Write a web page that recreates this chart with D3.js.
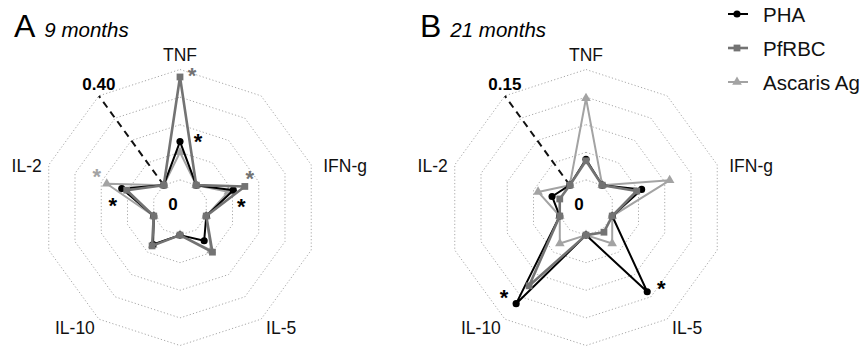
<!DOCTYPE html>
<html>
<head>
<meta charset="utf-8">
<script src="https://cdn.jsdelivr.net/npm/d3@7"></script>
<style>
  html, body { margin: 0; padding: 0; background: #fff; }
  svg { display: block; font-family: "Liberation Sans", Arial, sans-serif; }
</style>
</head>
<body>
<svg id="chart" width="863" height="350"></svg>
<script>
// Spokes of the radar: five cytokines with an empty spacer spoke between each pair
const categories = ["TNF", "", "IFN-g", "", "IL-5", "", "IL-10", "", "IL-2", ""];
const seriesNames = ["PHA", "PfRBC", "Ascaris Ag"];

// Panel A: 9 months
const pha9     = [0.139, 0, 0.103, 0, 0.049, 0, 0.066, 0, 0.122, 0];
const pfrbc9   = [0.373, 0, 0.147, 0, 0.100, 0, 0.072, 0, 0.103, 0];
const ascaris9 = [0.100, 0, 0.084, 0, 0.092, 0, 0.068, 0, 0.179, 0];

// Panel B: 21 months
const pha21     = [0.028, 0, 0.042, 0, 0.104, 0, 0.124, 0, 0.011, 0];
const pfrbc21   = [0.026, 0, 0.035, 0, 0.004, 0, 0.094, 0, 0.000, 0];
const ascaris21 = [0.111, 0, 0.082, 0, 0.023, 0, 0.023, 0, 0.031, 0];

// Radial axis: value 0 sits on the first ring, the stated maximum on the outer ring
const axisMax = [0.40, 0.15];
const axisMaxLabels = ["0.40", "0.15"];
const panelLetters = ["A", "B"];
const panelTitles = ["9 months", "21 months"];

// Significance marks: [series index, spoke index]
const stars9  = [[1, 0], [0, 0], [1, 2], [0, 2], [2, 8], [0, 8]];
const stars21 = [[0, 6], [0, 4]];

const colors = ["#000000", "#737373", "#a3a3a3"];
const widths = [2, 2.6, 2];
const symbols = [d3.symbolCircle, d3.symbolSquare, d3.symbolTriangle];
const symbolSizes = [40, 46, 40];

const svg = d3.select("#chart");
const R = 138;
const rings = 5;
const n = categories.length;
const angle = i => i * 2 * Math.PI / n;

const panels = [
  { cx: 180, cy: 207.5, data: [pha9, pfrbc9, ascaris9], stars: stars9,
    starOffsets: [[12, -6], [18, -5], [5, -12], [8, 12], [-10, -12], [-9, 12]] },
  { cx: 586, cy: 207.5, data: [pha21, pfrbc21, ascaris21], stars: stars21,
    starOffsets: [[-12, -11], [14, -8]] }
];

// Where each axis label sits relative to its outer-ring vertex
const labelPlace = {
  0: { dx: 0, dy: -9, anchor: "middle" },
  2: { dx: 12, dy: 7, anchor: "start" },
  4: { dx: 20, dy: 15, anchor: "middle" },
  6: { dx: -24, dy: 15, anchor: "middle" },
  8: { dx: -7, dy: 7, anchor: "end" }
};

panels.forEach((p, pi) => {
  const g = svg.append("g").attr("transform", `translate(${p.cx},${p.cy})`);
  const max = axisMax[pi];
  const min = -max / (rings - 1);
  const r = d3.scaleLinear().domain([min, max]).range([0, R]);
  const ringValues = d3.range(1, rings + 1).map(k => min + k * (max - min) / rings);

  const pt = (v, i) => [r(v) * Math.sin(angle(i)), -r(v) * Math.cos(angle(i))];

  // dotted decagon grid
  const ringLine = d3.lineRadial()
    .angle((d, i) => angle(i))
    .radius(d => r(d))
    .curve(d3.curveLinearClosed);
  g.selectAll(".ring").data(ringValues).join("path")
    .attr("class", "ring")
    .attr("d", v => ringLine(d3.range(n).map(() => v)))
    .attr("fill", "none")
    .attr("stroke", "#a8a8a8")
    .attr("stroke-width", 1)
    .attr("stroke-dasharray", "1.2,2.2");

  // dashed scale line from 0 to the maximum
  const a0 = pt(0, 9), a1 = pt(max, 9);
  g.append("line")
    .attr("x1", a0[0]).attr("y1", a0[1])
    .attr("x2", a1[0]).attr("y2", a1[1])
    .attr("stroke", "#111").attr("stroke-width", 2)
    .attr("stroke-dasharray", "7,5");
  g.append("text")
    .attr("x", a1[0]).attr("y", a1[1] - 6)
    .attr("text-anchor", "middle")
    .attr("font-size", 17).attr("font-weight", "bold")
    .text(axisMaxLabels[pi]);
  g.append("text")
    .attr("x", -7).attr("y", 2)
    .attr("text-anchor", "middle")
    .attr("font-size", 17).attr("font-weight", "bold")
    .text("0");

  // axis labels
  categories.forEach((c, i) => {
    if (!c) return;
    const v = pt(max, i), lp = labelPlace[i];
    g.append("text")
      .attr("x", v[0] + lp.dx).attr("y", v[1] + lp.dy)
      .attr("text-anchor", lp.anchor)
      .attr("font-size", 17.5)
      .attr("fill", "#111")
      .text(c);
  });

  // series, drawn bottom to top: Ascaris, PHA, PfRBC
  const seriesLine = d3.lineRadial()
    .angle((d, i) => angle(i))
    .radius(d => r(d))
    .curve(d3.curveLinearClosed);
  [2, 0, 1].forEach(si => {
    const vals = p.data[si];
    const sg = g.append("g");
    sg.append("path")
      .attr("d", seriesLine(vals))
      .attr("fill", "none")
      .attr("stroke", colors[si])
      .attr("stroke-width", widths[si])
      .attr("stroke-linejoin", "round");
    sg.selectAll("path.mk").data(vals).join("path")
      .attr("class", "mk")
      .attr("transform", (d, i) => `translate(${pt(d, i)})`)
      .attr("d", d3.symbol(symbols[si], symbolSizes[si]))
      .attr("fill", colors[si]);
  });

  // significance asterisks
  p.stars.forEach(([si, i], k) => {
    const q = pt(p.data[si][i], i), o = p.starOffsets[k];
    g.append("text")
      .attr("x", q[0] + o[0]).attr("y", q[1] + o[1] + 12)
      .attr("text-anchor", "middle")
      .attr("font-size", 22)
      .attr("font-weight", "bold")
      .attr("fill", colors[si])
      .text("*");
  });

  // panel heading
  const hx = pi === 0 ? 14 : 420;
  const head = svg.append("text").attr("x", hx).attr("y", 37);
  head.append("tspan").attr("font-size", 32).text(panelLetters[pi]);
  head.append("tspan").attr("dx", 9).attr("font-size", 20.5)
    .attr("font-style", "italic").text(panelTitles[pi]);
});

// legend
const lg = svg.append("g");
seriesNames.forEach((s, si) => {
  const y = 14 + si * 34;
  lg.append("line")
    .attr("x1", 728).attr("x2", 748).attr("y1", y).attr("y2", y)
    .attr("stroke", colors[si]).attr("stroke-width", widths[si]);
  lg.append("path")
    .attr("transform", `translate(737,${y})`)
    .attr("d", d3.symbol(symbols[si], symbolSizes[si]))
    .attr("fill", colors[si]);
  lg.append("text")
    .attr("x", 763).attr("y", y + 7.5)
    .attr("font-size", 20.5)
    .attr("fill", "#111")
    .text(s);
});
</script>
</body>
</html>
